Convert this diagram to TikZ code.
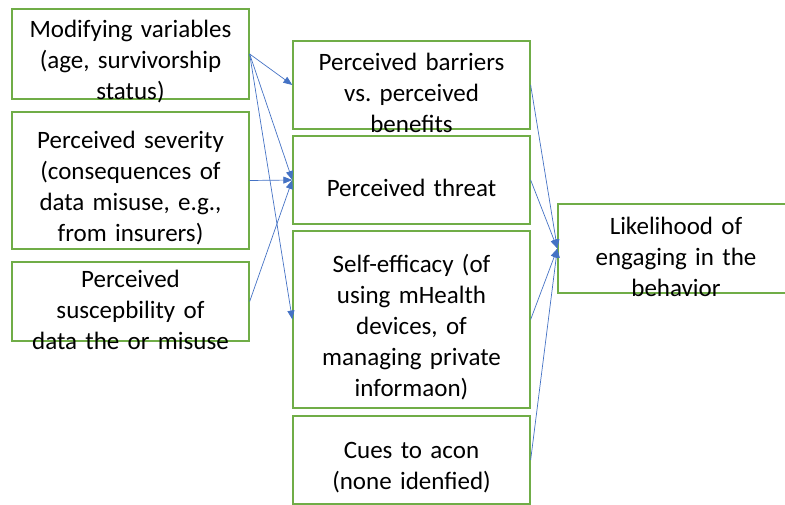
\documentclass[tikz,border=0pt]{standalone}
\usepackage{fontspec}
\setmainfont{Carlito}
\frenchspacing
\usetikzlibrary{arrows.meta}
\definecolor{boxgreen}{HTML}{70AD47}
\definecolor{arrowblue}{HTML}{4472C4}

\begin{document}
\begin{tikzpicture}[x=1pt, y=-1pt,
        box/.style={draw=boxgreen, line width=1.3pt, inner sep=0pt, minimum width=237pt},
        txt/.style={text width=236pt, align=center, inner sep=0pt, yshift=-8pt, font=\fontsize{25}{31}\selectfont}]
        \useasboundingbox (0,0) rectangle (785,505);

        \node[box, minimum height=90pt, label={[txt]center:{Modifying variables\\(age, survivorship\\status)}}] (modvar) at (130.5, 54) {};
        \node[box, minimum height=137pt, label={[txt]center:{Perceived severity\\(consequences of\\data misuse, e.g.,\\from insurers)}}] (severity) at (130.5, 180.5) {};
        \node[box, minimum height=79pt, label={[txt]center:{Perceived\\suscepbility of\\data the or misuse}}] (suscept) at (130.5, 301.5) {};

        \node[box, minimum height=88pt, label={[txt]center:{Perceived barriers\\vs. perceived\\benefits}}] (barriers) at (411.5, 85) {};
        \node[box, minimum height=88pt, label={[txt]center:{Perceived threat}}] (threat) at (411.5, 180) {};
        \node[box, minimum height=177pt, label={[txt]center:{Self-efficacy (of\\using mHealth\\devices, of\\managing private\\informaon)}}] (selfeff) at (411.5, 319.5) {};
        \node[box, minimum height=88pt, label={[txt]center:{Cues to acon\\(none idenfied)}}] (cues) at (411.5, 460) {};

        \node[box, minimum width=236pt, minimum height=89pt, label={[txt]center:{Likelihood of\\engaging in the\\behavior}}] (likely) at (676, 248.5) {};

        \begin{scope}[-{Triangle[length=9pt, width=7pt]}, draw=arrowblue, line width=0.7pt]
            \draw (modvar.east) -- (barriers.west);
            \draw (modvar.east) -- (threat.west);
            \draw (modvar.east) -- (selfeff.west);
            \draw (severity.east) -- (threat.west);
            \draw (suscept.east) -- (threat.west);
            \draw (barriers.east) -- (likely.west);
            \draw (threat.east) -- (likely.west);
            \draw (selfeff.east) -- (likely.west);
            \draw (cues.east) -- (likely.west);
        \end{scope}
    \end{tikzpicture}
\end{document}
